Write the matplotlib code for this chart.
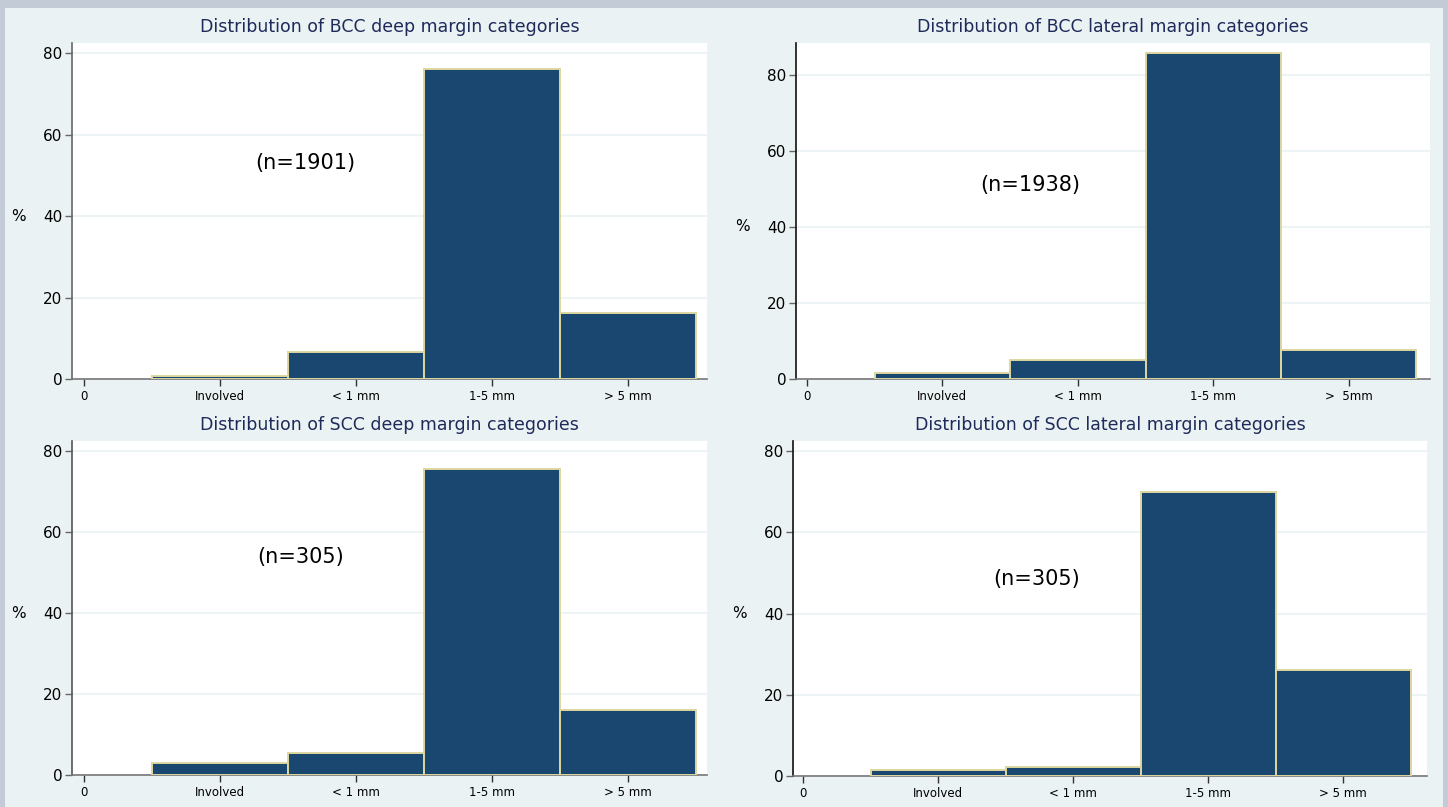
import numpy as np
import matplotlib.pyplot as plt
from matplotlib.patches import Rectangle

plt.rcParams['font.family'] = ['DejaVu Sans']

categories = ['Involved', '< 1 mm', '1-5 mm', '> 5 mm']
tick_labels_tr = ['Involved', '< 1 mm', '1-5 mm', '>  5mm']

bcc_deep = [0.7, 6.7, 76.1, 16.3]
bcc_lateral = [1.5, 5.0, 85.8, 7.6]
scc_deep = [3.0, 5.4, 75.5, 16.1]
scc_lateral = [1.5, 2.2, 70.0, 26.2]

titles = ['Distribution of BCC deep margin categories',
          'Distribution of BCC lateral margin categories',
          'Distribution of SCC deep margin categories',
          'Distribution of SCC lateral margin categories']
n_labels = ['(n=1901)', '(n=1938)', '(n=305)', '(n=305)']
n_pos = [(1.63, 53), (1.65, 51), (1.59, 53.8), (1.73, 48.5)]

W, H = 1448, 807
fig = plt.figure(figsize=(14.48, 8.07), dpi=100, facecolor='#c3ccd6')
bg = Rectangle((5 / W, 0), 1438 / W, 799 / H, transform=fig.transFigure,
               facecolor='#eaf2f3', edgecolor='none', zorder=-10)
fig.add_artist(bg)

# pixel boxes: left, top, right, bottom
boxes = [(72, 43, 707, 379), (796, 43, 1430, 379),
         (72, 441, 707, 775), (793, 441, 1427, 776)]
xlims = [(-0.088, 4.58), (-0.081, 4.6), (-0.088, 4.58), (-0.074, 4.62)]
ylims = [82.5, 88.4, 82.5, 82.5]
yticks = [[0, 20, 40, 60, 80]] * 4
data = [bcc_deep, bcc_lateral, scc_deep, scc_lateral]
spine_col = ['#666666', '#111111', '#555555', '#111111']

for i in range(4):
    l, t, r, b = boxes[i]
    ax = fig.add_axes([l / W, (H - b) / H, (r - l) / W, (b - t) / H])
    ax.set_facecolor('white')
    x = np.arange(1, 5)
    ax.bar(x, data[i], width=1.0, color='#1a476f', edgecolor='#ddd6a0', linewidth=1.4, zorder=3)
    ax.set_xlim(*xlims[i])
    ax.set_ylim(0, ylims[i])
    ax.set_yticks(yticks[i])
    ax.yaxis.grid(True, color='#eaf2f3', linewidth=1.2, zorder=0)
    labels = tick_labels_tr if i == 1 else categories
    ax.set_xticks(np.arange(0, 5))
    ax.set_xticklabels(['0'] + labels, fontsize=8.5)
    ax.tick_params(axis='y', labelsize=11, length=5, width=1, color='#666666', pad=2)
    ax.tick_params(axis='x', length=5, width=1, color='#333333', pad=3, direction='out')
    for s in ['top', 'right']:
        ax.spines[s].set_visible(False)
    ax.spines['left'].set_color(spine_col[i])
    ax.spines['left'].set_linewidth(1.2)
    ax.spines['bottom'].set_color('#777777')
    ax.spines['bottom'].set_linewidth(1.2)
    ax.set_title(titles[i], fontsize=12.5, color='#1e2a5a', pad=8)
    ax.set_ylabel('%', rotation=0, fontsize=11, va='center')
    ax.yaxis.set_label_coords(-0.085, 40 / ylims[i])
    ax.text(n_pos[i][0], n_pos[i][1], n_labels[i], fontsize=15, ha='center', va='center')

fig.savefig('out.png', dpi=100, facecolor=fig.get_facecolor())
